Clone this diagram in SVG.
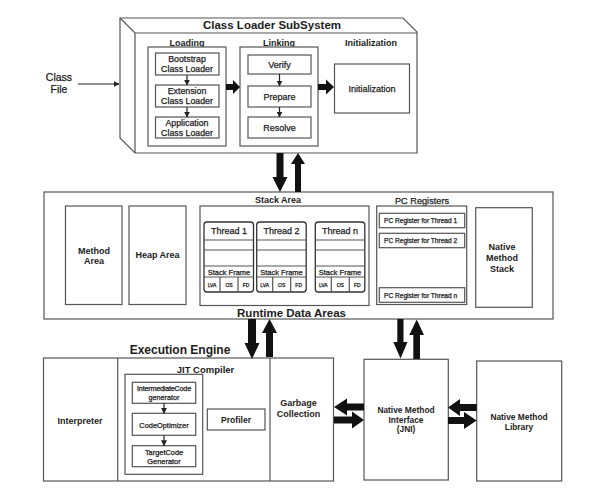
<svg xmlns="http://www.w3.org/2000/svg" width="606" height="501" viewBox="0 0 606 501">
<style>
.box{fill:#fff;stroke:#555;stroke-width:1.2}
.ln{fill:none;stroke:#555;stroke-width:1.2}
.th{fill:#fff;stroke:#333;stroke-width:1.3}
.t{font-family:"Liberation Sans",Arial,sans-serif;fill:#1c1c1c;text-anchor:middle;stroke:#1c1c1c;stroke-width:0.25}
.b{font-weight:bold;stroke:none}
.l{text-anchor:start}
.arr{fill:#111;stroke:none}
.thin{stroke:#222;stroke-width:1.2;fill:none}
</style>
<defs>
<marker id="sm" viewBox="0 0 10 10" refX="9" refY="5" markerWidth="5" markerHeight="5" orient="auto">
<path d="M0,0 L10,5 L0,10 z" fill="#222"/>
</marker>
</defs>
<rect width="606" height="501" fill="#fff"/>

<g id="class-file">
<text class="t" x="59" y="81" font-size="10.5">Class</text>
<text class="t" x="59" y="93" font-size="10.5">File</text>
</g>

<g id="class-loader-subsystem">
<polygon class="box" points="120,18 403,18 417,32 417,153 135,153 120,138"/>
<path class="ln" d="M120,18 L135,33 L417,33 M135,33 L135,153"/>
<text class="t b" x="272" y="29" font-size="11.5">Class Loader SubSystem</text>
</g>

<g id="loading">
<text class="t b" x="187" y="46" font-size="9">Loading</text>
<rect class="box" x="148" y="47" width="78" height="99"/>
</g>
<g id="bootstrap">
<rect class="box" x="155.5" y="53" width="63.5" height="22"/>
<text class="t" x="187" y="62" font-size="8.8">Bootstrap</text>
<text class="t" x="187" y="72" font-size="8.8">Class Loader</text>
</g>
<g id="extension">
<rect class="box" x="155.5" y="85" width="63.5" height="22"/>
<text class="t" x="187" y="94" font-size="8.8">Extension</text>
<text class="t" x="187" y="104" font-size="8.8">Class Loader</text>
</g>
<g id="application">
<rect class="box" x="155.5" y="117" width="63.5" height="21"/>
<text class="t" x="187" y="126" font-size="8.8">Application</text>
<text class="t" x="187" y="136" font-size="8.8">Class Loader</text>
</g>

<g id="linking">
<text class="t b" x="279" y="46" font-size="9">Linking</text>
<rect class="box" x="240" y="47" width="78" height="99"/>
</g>
<g id="verify">
<rect class="box" x="248" y="55" width="63" height="19"/>
<text class="t" x="279.5" y="67.5" font-size="9">Verify</text>
</g>
<g id="prepare">
<rect class="box" x="248" y="86" width="63" height="21"/>
<text class="t" x="279.5" y="99.5" font-size="9">Prepare</text>
</g>
<g id="resolve">
<rect class="box" x="248" y="117" width="63" height="21"/>
<text class="t" x="279.5" y="130.5" font-size="9">Resolve</text>
</g>

<g id="initialization">
<text class="t b" x="371" y="46" font-size="9">Initialization</text>
<rect class="box" x="334.5" y="64" width="75" height="49"/>
<text class="t" x="372" y="92" font-size="9">Initialization</text>
</g>

<g id="runtime-data-areas">
<rect class="box" x="44" y="192" width="509" height="127"/>
<text class="t b" x="291.5" y="317" font-size="11.5">Runtime Data Areas</text>
</g>
<g id="method-area">
<rect class="box" x="65.5" y="206" width="56.5" height="98.5"/>
<text class="t b" x="94" y="254" font-size="9">Method</text>
<text class="t b" x="94" y="264" font-size="9">Area</text>
</g>
<g id="heap-area">
<rect class="box" x="129" y="206" width="57" height="98.5"/>
<text class="t b" x="157.5" y="258" font-size="9">Heap Area</text>
</g>

<g id="stack-area">
<text class="t b" x="278" y="203" font-size="9">Stack Area</text>
<rect class="box" x="200" y="206" width="169" height="99.5"/>
</g>
<g id="thread-1">
<rect class="th" x="204" y="222" width="49.5" height="70" rx="3"/>
<path class="ln" d="M204,240H253.5M204,250H253.5M204,266H253.5M204,277H253.5M220,277V292M238,277V292"/>
<text class="t" x="229" y="234" font-size="9">Thread 1</text>
<text class="t" x="229" y="274.5" font-size="7.5">Stack Frame</text>
<text class="t" x="212" y="287" font-size="5">LVA</text>
<text class="t" x="229" y="287" font-size="5">OS</text>
<text class="t" x="246" y="287" font-size="5">FD</text>
</g>
<g id="thread-2">
<rect class="th" x="256.7" y="222" width="49.5" height="70" rx="3"/>
<path class="ln" d="M256.7,240H306.2M256.7,250H306.2M256.7,266H306.2M256.7,277H306.2M272.7,277V292M290.7,277V292"/>
<text class="t" x="281.5" y="234" font-size="9">Thread 2</text>
<text class="t" x="281.5" y="274.5" font-size="7.5">Stack Frame</text>
<text class="t" x="264.7" y="287" font-size="5">LVA</text>
<text class="t" x="281.7" y="287" font-size="5">OS</text>
<text class="t" x="298.7" y="287" font-size="5">FD</text>
</g>
<g id="thread-n">
<rect class="th" x="315.3" y="222" width="49.5" height="70" rx="3"/>
<path class="ln" d="M315.3,240H364.8M315.3,250H364.8M315.3,266H364.8M315.3,277H364.8M331.3,277V292M349.3,277V292"/>
<text class="t" x="340" y="234" font-size="9">Thread n</text>
<text class="t" x="340" y="274.5" font-size="7.5">Stack Frame</text>
<text class="t" x="323.3" y="287" font-size="5">LVA</text>
<text class="t" x="340.3" y="287" font-size="5">OS</text>
<text class="t" x="357.3" y="287" font-size="5">FD</text>
</g>

<g id="pc-registers">
<text class="t" x="422" y="204" font-size="9.2">PC Registers</text>
<rect class="box" x="376.7" y="206" width="90" height="98.5"/>
</g>
<g id="pc-thread-1">
<rect class="box" x="379.3" y="213.3" width="85.4" height="14.4"/>
<text class="t l" x="384" y="223" font-size="6.6">PC Register for Thread 1</text>
</g>
<g id="pc-thread-2">
<rect class="box" x="379.3" y="233.3" width="85.4" height="14.4"/>
<text class="t l" x="384" y="243" font-size="6.6">PC Register for Thread 2</text>
</g>
<g id="pc-thread-n">
<rect class="box" x="379.3" y="287.7" width="85.4" height="14.6"/>
<text class="t l" x="384" y="297.5" font-size="6.6">PC Register for Thread n</text>
</g>

<g id="native-method-stack">
<rect class="box" x="475.7" y="207.7" width="56.6" height="99.6"/>
<text class="t b" x="502" y="250" font-size="9">Native</text>
<text class="t b" x="502" y="261" font-size="9">Method</text>
<text class="t b" x="502" y="272" font-size="9">Stack</text>
</g>

<g id="execution-engine">
<text class="t b" x="180" y="354" font-size="12">Execution Engine</text>
<rect class="box" x="43.5" y="358" width="290" height="123"/>
<path class="ln" d="M117.7,358V481M270,358V481"/>
</g>
<g id="interpreter">
<text class="t b" x="80" y="424" font-size="9">Interpreter</text>
</g>
<g id="jit-compiler">
<text class="t b" x="205.5" y="372.5" font-size="9.5">JIT Compiler</text>
<rect class="box" x="125" y="374.3" width="77.7" height="100"/>
</g>
<g id="intermediate-code">
<rect class="box" x="132.3" y="382.3" width="63.4" height="21"/>
<text class="t" x="164" y="390.5" font-size="7.2" letter-spacing="-0.2">IntermediateCode</text>
<text class="t" x="164" y="399.5" font-size="7.2">generator</text>
</g>
<g id="code-optimizer">
<rect class="box" x="132.3" y="413.3" width="63.4" height="22"/>
<text class="t" x="164" y="427.5" font-size="7.4">CodeOptimizer</text>
</g>
<g id="target-code">
<rect class="box" x="132.3" y="445.7" width="63.4" height="21"/>
<text class="t" x="164" y="454.5" font-size="7.4">TargetCode</text>
<text class="t" x="164" y="464" font-size="7.4">Generator</text>
</g>
<g id="profiler">
<rect class="box" x="207.3" y="409" width="57.7" height="21"/>
<text class="t b" x="236" y="423" font-size="8.6">Profiler</text>
</g>
<g id="garbage-collection">
<text class="t b" x="298.5" y="405.5" font-size="9">Garbage</text>
<text class="t b" x="298.5" y="416.5" font-size="9">Collection</text>
</g>

<g id="jni">
<rect class="box" x="364" y="359.3" width="84.3" height="120.7"/>
<text class="t b" x="406" y="413" font-size="8.4">Native Method</text>
<text class="t b" x="406" y="422.5" font-size="8.4">Interface</text>
<text class="t b" x="406" y="432" font-size="8.4">(JNI)</text>
</g>
<g id="native-method-library">
<rect class="box" x="476.7" y="361" width="85" height="120"/>
<text class="t b" x="519" y="419.5" font-size="8.4">Native Method</text>
<text class="t b" x="519" y="429.5" font-size="8.4">Library</text>
</g>

<g id="connectors">
<line class="thin" x1="78" y1="84" x2="119" y2="84" marker-end="url(#sm)"/>
<line class="thin" x1="187" y1="75" x2="187" y2="85" marker-end="url(#sm)"/>
<line class="thin" x1="187" y1="107" x2="187" y2="117" marker-end="url(#sm)"/>
<line class="thin" x1="279.5" y1="74" x2="279.5" y2="86" marker-end="url(#sm)"/>
<line class="thin" x1="279.5" y1="107" x2="279.5" y2="117" marker-end="url(#sm)"/>
<line class="thin" x1="164" y1="403.3" x2="164" y2="413.3" marker-end="url(#sm)"/>
<line class="thin" x1="164" y1="435.3" x2="164" y2="445.7" marker-end="url(#sm)"/>
<polygon class="arr" points="226,84 233,84 233,80 240,87 233,94 233,90 226,90"/>
<polygon class="arr" points="318,84 326,84 326,79.5 334,87 326,94.5 326,90 318,90"/>
<polygon class="arr" points="276.5,153 283.5,153 283.5,177 287.5,177 280,192 272.5,177 276.5,177"/>
<polygon class="arr" points="295,192 301,192 301,164 305,164 298,153 291,164 295,164"/>
<polygon class="arr" points="248,319 256,319 256,343 259.5,343 252,359 244.5,343 248,343"/>
<polygon class="arr" points="266,357 273,357 273,333 277,333 269.5,319 262,333 266,333"/>
<polygon class="arr" points="397.3,319 403.5,319 403.5,342 407.5,342 400.5,358.5 393.3,342 397.3,342"/>
<polygon class="arr" points="413.3,359 420,359 420,335 424,335 416.7,319.5 409.3,335 413.3,335"/>
<polygon class="arr" points="364,403.5 347,403.5 347,398.5 334,407 347,415.5 347,410.5 364,410.5"/>
<polygon class="arr" points="334,416.5 352,416.5 352,411.5 364,420 352,428.5 352,423.5 334,423.5"/>
<polygon class="arr" points="476.7,404 460,404 460,399 448,407.5 460,416 460,411 476.7,411"/>
<polygon class="arr" points="448,417 464,417 464,412 476.7,420.5 464,429 464,424 448,424"/>
</g>
</svg>
